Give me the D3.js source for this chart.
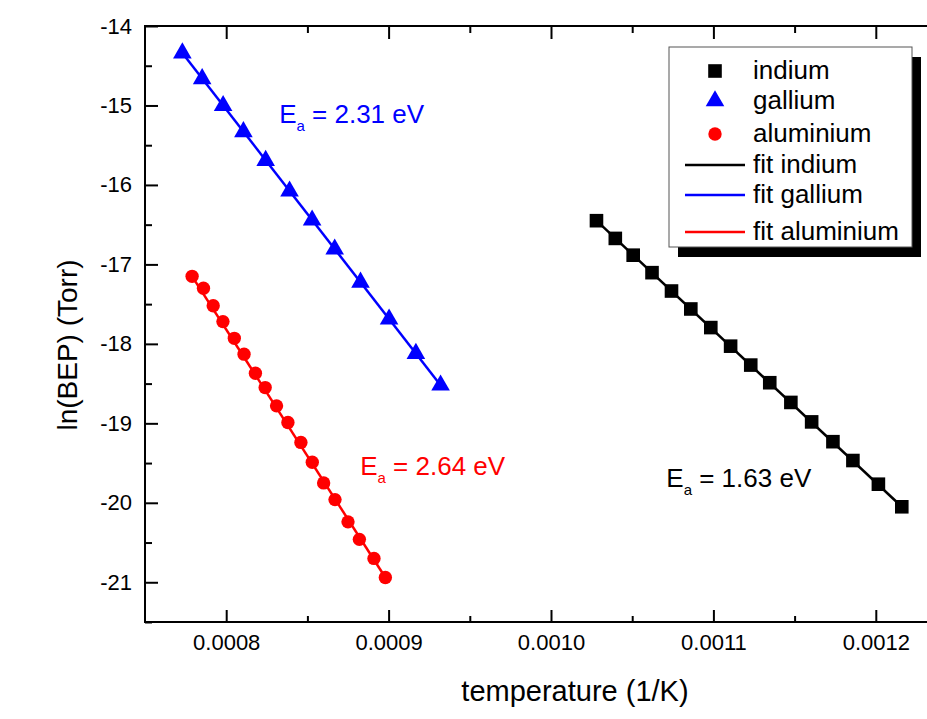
<!DOCTYPE html>
<html>
<head>
<meta charset="utf-8">
<script src="https://cdn.jsdelivr.net/npm/d3@7"></script>
<style>
body { margin: 0; background: #fff; }
svg { display: block; font-family: "Liberation Sans", Arial, sans-serif; }
</style>
</head>
<body>
<div id="chart"></div>
<script>
// values (x = 1/T in 1/K, y = ln(BEP))
const indiumX = [0.001028, 0.0010396, 0.0010506, 0.0010622, 0.0010742, 0.0010861, 0.0010984, 0.0011106,
                 0.001123, 0.0011347, 0.0011477, 0.0011605, 0.0011736, 0.0011859, 0.0012016, 0.001216];
const indiumY = [-16.45, -16.673, -16.884, -17.104, -17.335, -17.561, -17.795, -18.029,
                 -18.267, -18.489, -18.737, -18.982, -19.231, -19.468, -19.766, -20.05];

const galliumX = [0.000773, 0.0007852, 0.0007981, 0.0008106, 0.0008243, 0.000839,
                  0.0008529, 0.0008668, 0.0008827, 0.0009003, 0.0009168, 0.000932];
const galliumY = [-14.34, -14.665, -15.003, -15.331, -15.693, -16.078,
                  -16.443, -16.808, -17.225, -17.689, -18.122, -18.52];

const aluminiumX = [0.000779, 0.000786, 0.000792, 0.000798, 0.000805, 0.000811, 0.000818, 0.000824, 0.000831,
                    0.000838, 0.000846, 0.000853, 0.000860, 0.000867, 0.000875, 0.000882, 0.000891, 0.000898];
const aluminiumY = [-17.15, -17.30, -17.52, -17.72, -17.93, -18.13, -18.37, -18.55, -18.78,
                    -18.99, -19.24, -19.49, -19.75, -19.96, -20.24, -20.46, -20.70, -20.94];

// fit line end points
const fitIndiumX = [0.001028, 0.001216], fitIndiumY = [-16.45, -20.05];
const fitGalliumX = [0.000773, 0.000932], fitGalliumY = [-14.34, -18.52];
const fitAluminiumX = [0.000779, 0.000898], fitAluminiumY = [-17.15, -20.94];

const activation = ["2.31", "2.64", "1.63"];

const xMajor = [0.0008, 0.0009, 0.0010, 0.0011, 0.0012];
const xMinor = [0.00085, 0.00095, 0.00105, 0.00115];
const yMajor = [-21, -20, -19, -18, -17, -16, -15, -14];
const yMinor = [-21.5, -20.5, -19.5, -18.5, -17.5, -16.5, -15.5, -14.5];

const W = 927, H = 719;
const svg = d3.select("#chart").append("svg")
    .attr("width", W)
    .attr("height", H);

// right edge lies past the window, like in the original
const x = d3.scaleLinear().domain([0.00075, 0.00125]).range([145, 957]);
const y = d3.scaleLinear().domain([-21.5, -14]).range([622, 26]);

const zip = (xs, ys) => xs.map((v, i) => ({ x: v, y: ys[i] }));

function styleAxis(g) {
    g.select(".domain").remove();
    g.selectAll(".tick line").attr("stroke", "#000").attr("stroke-width", 2);
    g.selectAll(".tick text")
        .attr("fill", "#000")
        .style("font-size", "22px")
        .style("font-family", "'Liberation Sans', Arial, sans-serif");
}

// bottom axis
svg.append("g")
    .attr("transform", `translate(0,${y(-21.5)})`)
    .call(d3.axisBottom(x).tickValues(xMajor).tickSize(-12).tickPadding(12).tickFormat(d3.format(".4f")))
    .call(styleAxis);
svg.append("g")
    .attr("transform", `translate(0,${y(-21.5)})`)
    .call(d3.axisBottom(x).tickValues(xMinor).tickSize(-6).tickFormat(""))
    .call(styleAxis);

// top axis
svg.append("g")
    .attr("transform", `translate(0,${y(-14)})`)
    .call(d3.axisTop(x).tickValues(xMajor).tickSize(-13).tickFormat(""))
    .call(styleAxis);
svg.append("g")
    .attr("transform", `translate(0,${y(-14)})`)
    .call(d3.axisTop(x).tickValues(xMinor).tickSize(-7).tickFormat(""))
    .call(styleAxis);

// left axis
svg.append("g")
    .attr("transform", `translate(${x(0.00075)},0)`)
    .call(d3.axisLeft(y).tickValues(yMajor).tickSize(-13).tickPadding(13).tickFormat(d => String(d)))
    .call(styleAxis);
svg.append("g")
    .attr("transform", `translate(${x(0.00075)},0)`)
    .call(d3.axisLeft(y).tickValues(yMinor).tickSize(-7).tickFormat(""))
    .call(styleAxis);

// frame
svg.append("rect")
    .attr("x", x(0.00075))
    .attr("y", y(-14))
    .attr("width", x(0.00125) - x(0.00075))
    .attr("height", y(-21.5) - y(-14))
    .attr("fill", "none")
    .attr("stroke", "#000")
    .attr("stroke-width", 2);

const line = d3.line().x(d => x(d.x)).y(d => y(d.y));

// fits
svg.append("path").datum(zip(fitIndiumX, fitIndiumY))
    .attr("d", line).attr("fill", "none").attr("stroke", "#000").attr("stroke-width", 2.5);
svg.append("path").datum(zip(fitGalliumX, fitGalliumY))
    .attr("d", line).attr("fill", "none").attr("stroke", "#0000ff").attr("stroke-width", 2.5);
svg.append("path").datum(zip(fitAluminiumX, fitAluminiumY))
    .attr("d", line).attr("fill", "none").attr("stroke", "#ff0000").attr("stroke-width", 2.5);

// markers
const sq = d3.symbol().type(d3.symbolSquare).size(185);
const tri = d3.symbol().type(d3.symbolTriangle).size(150);
const circ = d3.symbol().type(d3.symbolCircle).size(140);

svg.append("g").selectAll("path")
    .data(zip(indiumX, indiumY))
    .join("path")
    .attr("transform", d => `translate(${x(d.x)},${y(d.y)})`)
    .attr("d", sq)
    .attr("fill", "#000");

svg.append("g").selectAll("path")
    .data(zip(galliumX, galliumY))
    .join("path")
    .attr("transform", d => `translate(${x(d.x)},${y(d.y)})`)
    .attr("d", tri)
    .attr("fill", "#0000ff");

svg.append("g").selectAll("path")
    .data(zip(aluminiumX, aluminiumY))
    .join("path")
    .attr("transform", d => `translate(${x(d.x)},${y(d.y)})`)
    .attr("d", circ)
    .attr("fill", "#ff0000");

// activation energy labels
function eaLabel(px, py, value, color) {
    const t = svg.append("text")
        .attr("x", px)
        .attr("y", py)
        .attr("fill", color)
        .style("font-size", "26px");
    t.append("tspan").text("E");
    t.append("tspan").attr("dy", 8).style("font-size", "15px").text("a");
    t.append("tspan").attr("dy", -8).text(` = ${value} eV`);
}
eaLabel(x(0.0008326), y(-15.224), activation[0], "#0000ff");
eaLabel(x(0.0008825), y(-19.648), activation[1], "#ff0000");
eaLabel(x(0.001071), y(-19.803), activation[2], "#000");

// axis titles
svg.append("text")
    .attr("x", 575)
    .attr("y", 701)
    .attr("text-anchor", "middle")
    .style("font-size", "29px")
    .text("temperature (1/K)");

svg.append("text")
    .attr("transform", "translate(77,345) rotate(-90)")
    .attr("text-anchor", "middle")
    .style("font-size", "28px")
    .text("ln(BEP) (Torr)");

// legend
const lx = 669, ly = 47, lw = 243, lh = 200;
const legend = svg.append("g").attr("transform", `translate(${lx},${ly})`);
legend.append("rect")
    .attr("x", 9).attr("y", 10).attr("width", lw).attr("height", lh)
    .attr("fill", "#000");
legend.append("rect")
    .attr("x", 0).attr("y", 0).attr("width", lw).attr("height", lh)
    .attr("fill", "#fff").attr("stroke", "#555").attr("stroke-width", 1);

const entries = [
    { label: "indium", kind: "mark", sym: sq, color: "#000", cy: 24 },
    { label: "gallium", kind: "mark", sym: tri, color: "#0000ff", cy: 54 },
    { label: "aluminium", kind: "mark", sym: circ, color: "#ff0000", cy: 87 },
    { label: "fit indium", kind: "line", color: "#000", cy: 118 },
    { label: "fit gallium", kind: "line", color: "#0000ff", cy: 148 },
    { label: "fit aluminium", kind: "line", color: "#ff0000", cy: 185 }
];
entries.forEach(e => {
    if (e.kind === "mark") {
        legend.append("path")
            .attr("transform", `translate(46,${e.cy})`)
            .attr("d", e.sym)
            .attr("fill", e.color);
    } else {
        legend.append("line")
            .attr("x1", 16).attr("x2", 76)
            .attr("y1", e.cy).attr("y2", e.cy)
            .attr("stroke", e.color).attr("stroke-width", 2.5);
    }
    legend.append("text")
        .attr("x", 84)
        .attr("y", e.cy + 8)
        .style("font-size", "26px")
        .text(e.label);
});
</script>
</body>
</html>
